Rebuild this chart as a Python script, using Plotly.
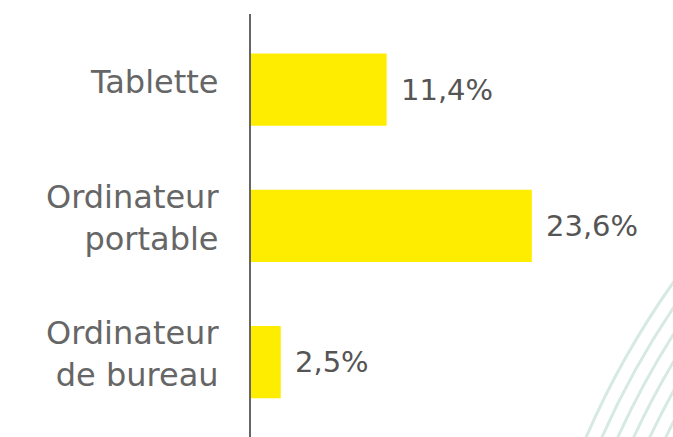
import plotly.graph_objects as go

categories = ["Tablette", "Ordinateur<br>portable", "Ordinateur<br>de bureau"]
values = [11.4, 23.6, 2.5]
value_labels = ["11,4%", "23,6%", "2,5%"]

W, H = 673, 437
L, R, T, B = 251, 6, 14, 0
pw, ph = W - L - R, H - T - B

fig = go.Figure()
fig.add_trace(go.Bar(
    x=values, y=categories, orientation="h",
    marker=dict(color="#FFED00", line=dict(width=0)),
    width=0.53, hoverinfo="skip",
))

for v, c, t in zip(values, categories, value_labels):
    fig.add_annotation(x=v, y=c, text=t, showarrow=False, xanchor="left",
                       xshift=12, yshift=0,
                       font=dict(family="DejaVu Sans", size=29, color="#555555"))

# category labels (left of axis, slightly raised as in the reference)
for c in categories:
    fig.add_annotation(x=0, xref="paper", y=c, text=c, showarrow=False,
                       xanchor="right", align="right", xshift=-30, yshift=8,
                       font=dict(family="DejaVu Sans", size=32, color="#666666"))

# decorative concentric arcs (bottom right)
def px2paper(px, py):
    return (px - L) / pw, (H - B - py) / ph

cx, cy, r0 = 1379, 783, 865
for k in range(7):
    r = r0 - 14.5 * k
    x0, y0 = px2paper(cx - r, cy + r)
    x1, y1 = px2paper(cx + r, cy - r)
    fig.add_shape(type="circle", xref="paper", yref="paper",
                  x0=x0, y0=y0, x1=x1, y1=y1,
                  line=dict(color="#d6e9e3", width=3), layer="below")

fig.update_layout(
    width=W, height=H,
    margin=dict(l=L, r=R, t=T, b=B),
    plot_bgcolor="white", paper_bgcolor="white",
    showlegend=False,
    separators=", ",
    font=dict(family="DejaVu Sans", color="#666666"),
    xaxis=dict(range=[0, pw / 11.9], visible=False, fixedrange=True),
    yaxis=dict(
        range=[2.55, -0.555], automargin=False,
        showline=True, linecolor="#666666", linewidth=1.5,
        showgrid=False, zeroline=False, ticks="",
        showticklabels=False,
    ),
)

fig.write_html("out.html", config={"displayModeBar": False},
               post_script="document.body.style.margin='0';document.body.style.overflow='hidden';")
